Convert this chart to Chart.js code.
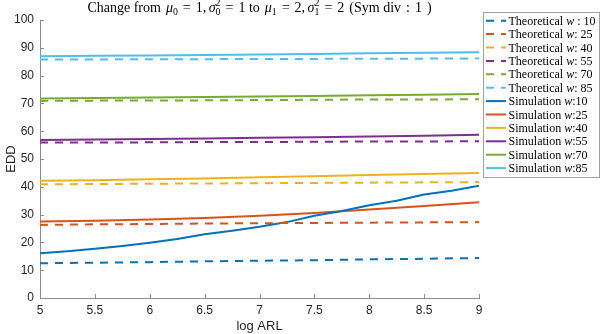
<!DOCTYPE html>
<html>
<head>
<meta charset="utf-8">
<script src="https://cdn.jsdelivr.net/npm/chart.js@4.4.1/dist/chart.umd.min.js"></script>
<style>
  html, body { margin: 0; padding: 0; background: #fff; }
  #wrap { width: 600px; height: 334px; }
</style>
</head>
<body>
<div id="wrap"><canvas id="eddChart" width="600" height="334"></canvas></div>
<script>
// log ARL grids
const xCoarse = [5, 5.5, 6, 6.5, 7, 7.5, 8, 8.5, 9];
const xFine = [5, 5.25, 5.5, 5.75, 6, 6.25, 6.5, 6.75, 7, 7.25, 7.5, 7.75, 8, 8.25, 8.5, 8.75, 9];

const theo10 = [12.5, 12.7, 12.9, 13.2, 13.4, 13.6, 13.9, 14.1, 14.4];
const theo25 = [26.3, 26.5, 26.6, 26.8, 26.9, 27.0, 27.1, 27.2, 27.3];
const theo40 = [40.9, 41.0, 41.1, 41.2, 41.3, 41.4, 41.5, 41.6, 41.7];
const theo55 = [55.9, 55.9, 56.0, 56.1, 56.1, 56.2, 56.3, 56.3, 56.4];
const theo70 = [70.9, 71.0, 71.0, 71.1, 71.2, 71.3, 71.4, 71.4, 71.5];
const theo85 = [85.8, 85.8, 85.9, 85.9, 86.0, 86.0, 86.1, 86.1, 86.2];

const sim10 = [16.1, 16.8, 17.7, 18.7, 19.9, 21.2, 22.9, 24.2, 25.6, 27.3, 29.6, 31.3, 33.4, 35.0, 37.2, 38.6, 40.4];
const sim25 = [27.5, 27.8, 28.2, 28.8, 29.6, 30.6, 31.8, 33.1, 34.4];
const sim40 = [42.2, 42.4, 42.7, 43.0, 43.4, 43.8, 44.2, 44.6, 45.0];
const sim55 = [56.8, 57.0, 57.2, 57.4, 57.6, 57.8, 58.1, 58.4, 58.7];
const sim70 = [71.8, 71.9, 72.1, 72.3, 72.5, 72.7, 72.9, 73.1, 73.4];
const sim85 = [87.0, 87.1, 87.2, 87.4, 87.6, 87.8, 88.0, 88.2, 88.4];

const yTicks = [0, 10, 20, 30, 40, 50, 60, 70, 80, 90, 100];
const xTicks = [5, 5.5, 6, 6.5, 7, 7.5, 8, 8.5, 9];

const COLORS = ['#0072BD', '#D95319', '#EDB120', '#7E2F8E', '#77AC30', '#4DBEEE'];
const SERIF = '"Liberation Serif", "DejaVu Serif", serif';
const SANS = '"Liberation Sans", Arial, sans-serif';
const DASH = [8, 7];

function pts(xs, ys) { return ys.map((y, i) => ({ x: xs[i], y })); }

const theoSeries = [
  { label: 'Theoretical w : 10', data: pts(xCoarse, theo10) },
  { label: 'Theoretical w: 25', data: pts(xCoarse, theo25) },
  { label: 'Theoretical w: 40', data: pts(xCoarse, theo40) },
  { label: 'Theoretical w: 55', data: pts(xCoarse, theo55) },
  { label: 'Theoretical w: 70', data: pts(xCoarse, theo70) },
  { label: 'Theoretical w: 85', data: pts(xCoarse, theo85) },
];
const simSeries = [
  { label: 'Simulation w:10', data: pts(xFine, sim10) },
  { label: 'Simulation w:25', data: pts(xCoarse, sim25) },
  { label: 'Simulation w:40', data: pts(xCoarse, sim40) },
  { label: 'Simulation w:55', data: pts(xCoarse, sim55) },
  { label: 'Simulation w:70', data: pts(xCoarse, sim70) },
  { label: 'Simulation w:85', data: pts(xCoarse, sim85) },
];

const datasets = [
  ...theoSeries.map((s, i) => ({ ...s, borderColor: COLORS[i], borderDash: DASH })),
  ...simSeries.map((s, i) => ({ ...s, borderColor: COLORS[i], borderDash: [] })),
];

// text made of roman / italic / sub / sub+sup pieces, plus fixed gaps (g)
function pieceFont(p, size) {
  if (p.k === 'ss' || p.k === 'sub') return `${size * 0.7}px ${SERIF}`;
  return `${p.k === 'i' ? 'italic ' : ''}${size}px ${SERIF}`;
}
function pieceWidth(ctx, p, size) {
  if (p.k === 'g') return p.w;
  ctx.font = pieceFont(p, size);
  if (p.k === 'ss') return Math.max(ctx.measureText(p.sup).width, ctx.measureText(p.sub).width);
  return ctx.measureText(p.t).width;
}
function richWidth(ctx, parts, size) {
  return parts.reduce((w, p) => w + pieceWidth(ctx, p, size), 0);
}
function drawRich(ctx, parts, x, y, size) {
  ctx.textBaseline = 'alphabetic';
  ctx.textAlign = 'left';
  for (const p of parts) {
    const w = pieceWidth(ctx, p, size);
    if (p.k === 'ss') {
      ctx.fillText(p.sup, x, y - size * 0.42);
      ctx.fillText(p.sub, x, y + size * 0.22);
    } else if (p.k === 'sub') {
      ctx.fillText(p.t, x, y + size * 0.22);
    } else if (p.k !== 'g') {
      ctx.fillText(p.t, x, y);
    }
    x += w;
  }
}
function labelParts(label) {
  const i = label.indexOf('w');
  return [{ t: label.slice(0, i), k: 'r' }, { t: 'w', k: 'i' }, { t: label.slice(i + 1), k: 'r' }];
}

const g = w => ({ k: 'g', w });
const titleParts = [
  { t: 'Change from', k: 'r' }, g(5), { t: 'μ', k: 'i' }, { t: '0', k: 'sub' }, g(5), { t: '=', k: 'r' }, g(5),
  { t: '1,', k: 'r' }, g(2.5), { t: 'σ', k: 'i' }, { sup: '2', sub: '0', k: 'ss' }, g(5), { t: '=', k: 'r' }, g(5),
  { t: '1 to', k: 'r' }, g(5), { t: 'μ', k: 'i' }, { t: '1', k: 'sub' }, g(5), { t: '=', k: 'r' }, g(5),
  { t: '2,', k: 'r' }, g(2.5), { t: 'σ', k: 'i' }, { sup: '2', sub: '1', k: 'ss' }, g(5), { t: '=', k: 'r' }, g(5),
  { t: '2', k: 'r' }, g(5), { t: '(Sym div', k: 'r' }, g(5), { t: ':', k: 'r' }, g(5), { t: '1', k: 'r' }, g(5), { t: ')', k: 'r' },
];

const matlabLook = {
  id: 'matlabLook',
  afterDraw(chart) {
    const { ctx, chartArea: a, scales } = chart;
    ctx.save();
    // inward ticks
    ctx.strokeStyle = '#8c8c8c';
    ctx.lineWidth = 1;
    ctx.beginPath();
    scales.x.ticks.forEach(t => {
      const px = Math.round(scales.x.getPixelForValue(t.value)) + 0.5;
      ctx.moveTo(px, a.bottom); ctx.lineTo(px, a.bottom - 4);
    });
    scales.y.ticks.forEach(t => {
      const py = Math.round(scales.y.getPixelForValue(t.value)) + 0.5;
      ctx.moveTo(a.left, py); ctx.lineTo(a.left + 4, py);
    });
    ctx.stroke();

    // title
    ctx.fillStyle = '#000';
    const size = 14;
    const tw = richWidth(ctx, titleParts, size);
    drawRich(ctx, titleParts, (a.left + a.right) / 2 - tw / 2, 12, size);

    // legend
    const lx = 483.5, ly = 12.5, lw = 116, lh = 165;
    ctx.fillStyle = '#fff';
    ctx.fillRect(lx, ly, lw, lh);
    ctx.strokeStyle = '#a0a0a0';
    ctx.strokeRect(lx, ly, lw, lh);
    chart.data.datasets.forEach((ds, i) => {
      const yy = 20.7 + i * 13.4;
      ctx.strokeStyle = ds.borderColor;
      ctx.lineWidth = 2;
      ctx.setLineDash(ds.borderDash || []);
      ctx.beginPath(); ctx.moveTo(486, yy); ctx.lineTo(506, yy); ctx.stroke();
      ctx.setLineDash([]);
      ctx.fillStyle = '#000';
      drawRich(ctx, labelParts(ds.label), 508.5, yy + 4, 12);
    });
    ctx.restore();
  },
};

new Chart(document.getElementById('eddChart'), {
  type: 'line',
  data: { datasets },
  options: {
    responsive: false,
    animation: false,
    layout: { padding: { top: 20, right: 121, left: 0, bottom: 0 } },
    elements: { point: { radius: 0 }, line: { borderWidth: 2, tension: 0 } },
    plugins: { legend: { display: false }, title: { display: false }, tooltip: { enabled: false } },
    scales: {
      x: {
        type: 'linear', min: 5, max: 9,
        afterBuildTicks: s => { s.ticks = xTicks.map(v => ({ value: v })); },
        afterFit: s => { s.height = 36; },
        grid: { display: false, drawTicks: false },
        border: { display: true, color: '#8c8c8c', width: 1 },
        ticks: { font: { family: SANS, size: 12 }, color: '#262626', padding: 5, maxRotation: 0, callback: v => String(v) },
        title: { display: true, text: 'log ARL', font: { family: SANS, size: 13 }, color: '#262626', padding: { top: 0, bottom: 0 } },
      },
      y: {
        min: 0, max: 100,
        afterBuildTicks: s => { s.ticks = yTicks.map(v => ({ value: v })); },
        afterFit: s => { s.width = 40; },
        grid: { display: false, drawTicks: false },
        border: { display: true, color: '#8c8c8c', width: 1 },
        ticks: { font: { family: SANS, size: 12 }, color: '#262626', padding: 6, callback: v => String(v) },
        title: { display: true, text: 'EDD', font: { family: SANS, size: 13 }, color: '#262626', padding: { top: 4, bottom: 0 } },
      },
    },
  },
  plugins: [matlabLook],
});
</script>
</body>
</html>
